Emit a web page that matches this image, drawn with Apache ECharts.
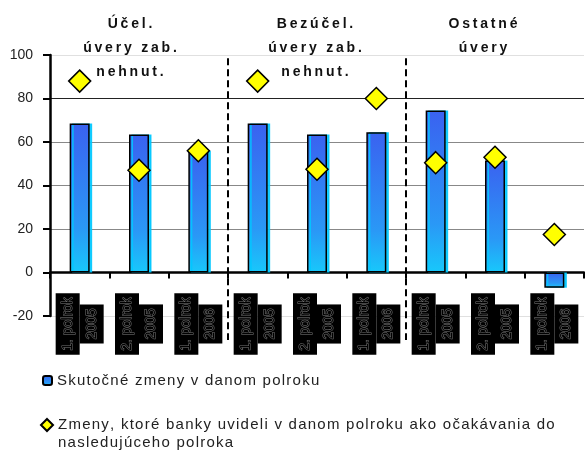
<!DOCTYPE html>
<html>
<head>
<meta charset="utf-8">
<script src="https://cdn.jsdelivr.net/npm/echarts@6/dist/echarts.min.js"></script>
<style>
html,body{margin:0;padding:0;background:#fff;}
#main{width:585px;height:451px;}
</style>
</head>
<body>
<div id="main"></div>
<script>
const categories = ['1. polrok 2005','2. polrok 2005','1. polrok 2006','1. polrok 2005','2. polrok 2005','1. polrok 2006','1. polrok 2005','2. polrok 2005','1. polrok 2006'];
const actualChanges = [68.5, 63.5, 56, 68.5, 63.5, 64.5, 74.5, 51.5, -7];
const expectedChanges = [88, 47, 56, 88, 47.5, 80, 50.5, 53, 17.5];
const groupTitles = ['Účel.\núvery zab.\nnehnut.', 'Bezúčel.\núvery zab.\nnehnut.', 'Ostatné\núvery'];
const groupBoundaries = [3, 6];
const seriesNames = ['Skutočné zmeny v danom polroku', 'Zmeny, ktoré banky uvideli v danom polroku ako očakávania do\nnasledujúceho polroka'];
const yMin = -20, yMax = 100, yStep = 20;

const spaced = (s, sp) => s.split('\n').map(l => l.split('').join(sp)).join('\n');
const titleCenters = [130, 315, 483];

const chart = echarts.init(document.getElementById('main'), null, {renderer: 'canvas'});
const font = '"Liberation Sans", Arial, sans-serif';

const option = {
  animation: false,
  textStyle: {fontFamily: font},
  title: groupTitles.map((t, i) => ({
    text: spaced(t, '\u2009'),
    left: titleCenters[i],
    top: 12,
    padding: 0,
    textAlign: 'center',
    textStyle: {fontSize: 14, fontWeight: 'bold', lineHeight: 24, color: '#111', fontFamily: font}
  })),
  grid: {left: 50, right: 1, top: 55, bottom: 135, containLabel: false},
  legend: [{
    orient: 'vertical', left: 42, top: 373, padding: 0,
    itemWidth: 9, itemHeight: 9, itemGap: 10,
    data: [seriesNames[0]],
    textStyle: {fontSize: 15, color: '#222', fontFamily: font},
    formatter: n => spaced(n, '\u200A')
  }, {
    orient: 'vertical', left: 40, top: 398, padding: 0,
    itemWidth: 12, itemHeight: 12,
    data: [seriesNames[1]],
    textStyle: {fontSize: 15, color: '#222', lineHeight: 18, fontFamily: font},
    formatter: n => '\n' + spaced(n, '\u200A')
  }],
  xAxis: [{
    type: 'category',
    data: categories,
    axisLine: {onZero: true, lineStyle: {color: '#000', width: 2.5}},
    axisTick: {show: true, length: 6, lineStyle: {color: '#000', width: 2}},
    axisLabel: {
      interval: 0, rotate: 90, margin: 8, align: 'center', verticalAlign: 'middle',
      formatter: v => {
        const p = v.split(' ');
        return '{a|' + p[0] + ' ' + p[1] + '}\n{b|' + p[2] + '}';
      },
      rich: {
        a: {backgroundColor: '#000', color: '#000', textBorderColor: '#777', textBorderWidth: 1, fontSize: 14, lineHeight: 24, padding: [5, 4, 5, 4], fontFamily: font},
        b: {backgroundColor: '#000', color: '#000', textBorderColor: '#777', textBorderWidth: 1, fontSize: 14, lineHeight: 24, padding: [5, 4, 5, 4], fontFamily: font}
      }
    },
    splitLine: {show: false}
  }, {
    type: 'value', min: 0, max: categories.length, show: false
  }],
  yAxis: {
    type: 'value', min: yMin, max: yMax, interval: yStep,
    axisLine: {show: true, lineStyle: {color: '#000', width: 2.5}},
    axisTick: {show: true, length: 7, lineStyle: {color: '#000', width: 2}},
    axisLabel: {fontSize: 14, color: '#222', margin: 17, fontFamily: font},
    splitLine: {lineStyle: {color: ['#e0e0e0', '#000', '#888', '#888', '#888', '#222', '#e0e0e0'], width: 1}}
  },
  series: [{
    name: seriesNames[0],
    type: 'bar',
    data: actualChanges,
    barWidth: 20,
    itemStyle: {
      color: new echarts.graphic.LinearGradient(0, 0, 0, 1, [
        {offset: 0, color: '#3a62f0'},
        {offset: 0.7, color: '#2a98f6'},
        {offset: 1, color: '#18c8fb'}
      ]),
      borderColor: '#000', borderWidth: 1.5,
      shadowColor: 'rgba(0,200,255,0.9)', shadowOffsetX: 2.5, shadowOffsetY: 0, shadowBlur: 0
    },
    z: 2
  }, {
    name: seriesNames[1],
    type: 'scatter',
    data: expectedChanges,
    symbol: 'diamond',
    symbolSize: [22, 22],
    itemStyle: {color: '#ffff00', borderColor: '#000', borderWidth: 1.5, opacity: 1},
    z: 5
  }, {
    type: 'custom',
    xAxisIndex: 1,
    yAxisIndex: 0,
    data: groupBoundaries.map(b => [b]),
    silent: true,
    clip: false,
    renderItem: (params, api) => {
      const top = api.coord([api.value(0), 98.5]);
      const bot = api.coord([api.value(0), yMin]);
      return {
        type: 'line',
        shape: {x1: top[0], y1: top[1], x2: bot[0], y2: bot[1] + 24},
        style: {stroke: '#000', lineWidth: 2, lineDash: [7, 4]}
      };
    },
    z: 3
  }]
};
chart.setOption(option);
</script>
</body>
</html>
